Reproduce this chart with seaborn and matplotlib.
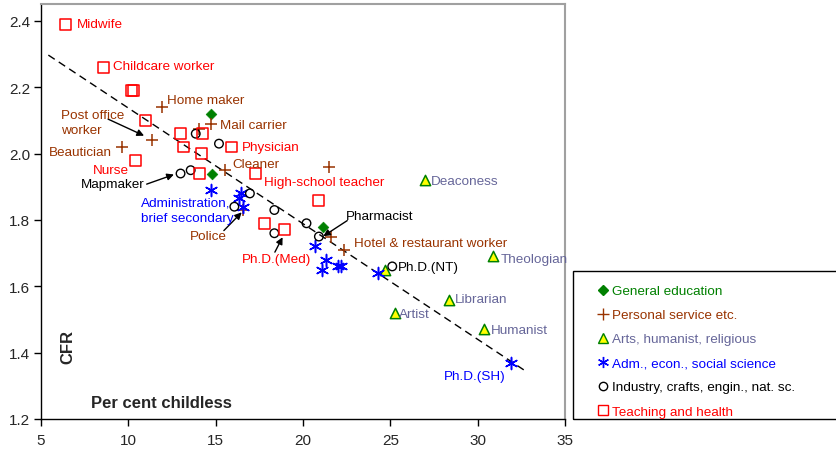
import numpy as np
import pandas as pd
import seaborn as sns
import matplotlib.pyplot as plt
from matplotlib.lines import Line2D
from matplotlib.patches import Rectangle

# CFR vs per cent childless, by occupation group

general_x = [14.71, 14.79, 21.13]
general_y = [2.12, 1.94, 1.78]

personal_x = [11.9, 14.71, 14.04, 11.33, 9.62, 15.55, 21.5, 16.58, 21.6, 22.34]
personal_y = [2.14, 2.09, 2.075, 2.04, 2.02, 1.95, 1.96, 1.83, 1.75, 1.71]

arts_x = [26.98, 30.89, 24.69, 28.37, 25.26, 30.38]
arts_y = [1.92, 1.69, 1.65, 1.56, 1.52, 1.47]

adm_x = [14.73, 16.43, 16.35, 16.54, 20.68, 21.31, 21.07, 22.0, 22.2, 24.31, 31.89]
adm_y = [1.89, 1.88, 1.865, 1.84, 1.72, 1.68, 1.65, 1.66, 1.66, 1.64, 1.37]

industry_x = [13.86, 15.19, 12.99, 13.57, 16.96, 16.07, 18.36, 18.36, 20.2, 20.91, 25.11]
industry_y = [2.06, 2.03, 1.94, 1.95, 1.88, 1.84, 1.83, 1.76, 1.79, 1.75, 1.66]

teach_x = [6.4, 8.6, 10.2, 10.3, 11.0, 12.97, 14.27, 13.15, 14.18, 15.88, 10.4, 14.1, 17.29, 20.9, 17.77, 18.93]
teach_y = [2.39, 2.26, 2.19, 2.19, 2.10, 2.06, 2.06, 2.02, 2.00, 2.02, 1.98, 1.94, 1.94, 1.86, 1.79, 1.77]

trend_x = [5.42, 32.7]
trend_y = [2.297, 1.346]

group_names = ["General education", "Personal service etc.", "Arts, humanist, religious",
               "Adm., econ., social science", "Industry, crafts, engin., nat. sc.",
               "Teaching and health"]

GREEN = "#008000"
BROWN = "#993300"
PURPLE = "#666699"
BLUE = "#0000FF"
RED = "#FF0000"

sns.set_style("ticks")
plt.rcParams["font.family"] = ["Liberation Sans", "DejaVu Sans"]

fig = plt.figure(figsize=(8.37, 4.52), dpi=100)
ax = fig.add_axes([41 / 837, 32 / 452, 524 / 837, 415 / 452])

sns.lineplot(x=trend_x, y=trend_y, ax=ax, color="black", lw=1, dashes=False)
ax.lines[-1].set_dashes((5.5, 3.5))

sns.scatterplot(x=general_x, y=general_y, ax=ax, marker="D", s=30, color=GREEN,
                edgecolor=GREEN, zorder=3)
sns.scatterplot(x=personal_x, y=personal_y, ax=ax, marker="+", s=70, color=BROWN,
                linewidth=1.1, zorder=3)
sns.scatterplot(x=arts_x, y=arts_y, ax=ax, marker="^", s=55, color="#FFFF00",
                edgecolor=GREEN, linewidth=1.1, zorder=3)
sns.scatterplot(x=adm_x, y=adm_y, ax=ax, marker=(6, 2, 0), s=75, color=BLUE,
                linewidth=1.1, zorder=3)
sns.scatterplot(x=industry_x, y=industry_y, ax=ax, marker="o", s=38, color="black",
                facecolors="none", edgecolor="black", linewidth=1, zorder=3)
sns.scatterplot(x=teach_x, y=teach_y, ax=ax, marker="s", s=62, color=RED,
                facecolors="none", edgecolor=RED, linewidth=1.1, zorder=3)

ax.set_xlim(5, 35)
ax.set_ylim(1.2, 2.451)
ax.set_xticks(np.arange(5, 36, 5))
ax.set_yticks(np.arange(1.2, 2.41, 0.2))
ax.set_yticklabels(["%.1f" % v for v in np.arange(1.2, 2.41, 0.2)])
ax.tick_params(labelsize=11, length=5, width=1, color="black", direction="out")
ax.tick_params(axis="x", pad=5)
ax.tick_params(axis="y", pad=3)
for s in ["left", "bottom"]:
    ax.spines[s].set_color("black")
    ax.spines[s].set_linewidth(1)
for s in ["top", "right"]:
    ax.spines[s].set_visible(True)
    ax.spines[s].set_color("#A0A0A0")
    ax.spines[s].set_linewidth(1.5)

# point labels
fs = 9.7
labels = [
    ("Midwife", 7.06, 2.391, RED, "left"),
    ("Childcare worker", 9.12, 2.264, RED, "left"),
    ("Home maker", 12.21, 2.162, BROWN, "left"),
    ("Mail carrier", 15.25, 2.086, BROWN, "left"),
    ("Post office\nworker", 6.14, 2.095, BROWN, "left"),
    ("Beautician", 9.06, 2.005, BROWN, "right"),
    ("Physician", 16.5, 2.02, RED, "left"),
    ("Nurse", 10.04, 1.951, RED, "right"),
    ("Cleaner", 15.93, 1.969, BROWN, "left"),
    ("Mapmaker", 10.95, 1.908, "black", "right"),
    ("High-school teacher", 17.76, 1.915, RED, "left"),
    ("Administration,\nbrief secondary", 10.72, 1.83, BLUE, "left"),
    ("Police", 13.53, 1.752, BROWN, "left"),
    ("Pharmacist", 22.46, 1.812, "black", "left"),
    ("Hotel & restaurant worker", 22.92, 1.731, BROWN, "left"),
    ("Ph.D.(Med)", 16.5, 1.682, RED, "left"),
    ("Deaconess", 27.32, 1.918, PURPLE, "left"),
    ("Theologian", 31.33, 1.682, PURPLE, "left"),
    ("Ph.D.(NT)", 25.43, 1.658, "black", "left"),
    ("Librarian", 28.7, 1.562, PURPLE, "left"),
    ("Artist", 25.49, 1.517, PURPLE, "left"),
    ("Humanist", 30.76, 1.468, PURPLE, "left"),
    ("Ph.D.(SH)", 28.07, 1.33, BLUE, "left"),
]
for txt, lx, ly, c, ha in labels:
    ax.text(lx, ly, txt, color=c, fontsize=fs, ha=ha, va="center",
            linespacing=1.35, zorder=4, clip_on=False)

arrows = [
    ((8.84, 2.104), (10.9, 2.054)),
    ((11.05, 1.908), (12.61, 1.937)),
    ((15.47, 1.768), (16.49, 1.823)),
    ((18.39, 1.703), (18.83, 1.748)),
    ((22.53, 1.798), (21.16, 1.751)),
]
for start, tip in arrows:
    ax.annotate("", xy=tip, xytext=start,
                arrowprops=dict(arrowstyle="-|>", color="black", lw=1,
                                mutation_scale=10, shrinkA=0, shrinkB=0))

ax.text(0.0515, 0.176, "CFR", transform=ax.transAxes, rotation=90, fontsize=12,
        fontweight="bold", ha="center", va="center")
ax.text(0.229, 0.0386, "Per cent childless", transform=ax.transAxes, fontsize=12,
        fontweight="bold", ha="center", va="center")

# legend box
fig.patches.append(Rectangle((573 / 837, 32 / 452), 0.33, 148 / 452,
                             transform=fig.transFigure, fill=False,
                             edgecolor="black", lw=1))
handles = [
    Line2D([], [], ls="", marker="D", ms=5, color=GREEN),
    Line2D([], [], ls="", marker="+", ms=8, color=BROWN, mew=1),
    Line2D([], [], ls="", marker="^", ms=6.5, mfc="#FFFF00", mec=GREEN, mew=1),
    Line2D([], [], ls="", marker=(6, 2, 0), ms=8, color=BLUE, mew=1),
    Line2D([], [], ls="", marker="o", ms=6, mfc="none", mec="black", mew=1),
    Line2D([], [], ls="", marker="s", ms=7, mfc="none", mec=RED, mew=1),
]
leg = fig.legend(handles, group_names, loc="upper left",
                 bbox_to_anchor=(598 / 837, 166 / 452), frameon=False,
                 fontsize=fs, handlelength=0.8, handletextpad=0.25,
                 labelspacing=0.86, borderpad=0, borderaxespad=0)
for t, c in zip(leg.get_texts(), [GREEN, BROWN, PURPLE, BLUE, "black", RED]):
    t.set_color(c)

plt.savefig("out.png", dpi=100)
